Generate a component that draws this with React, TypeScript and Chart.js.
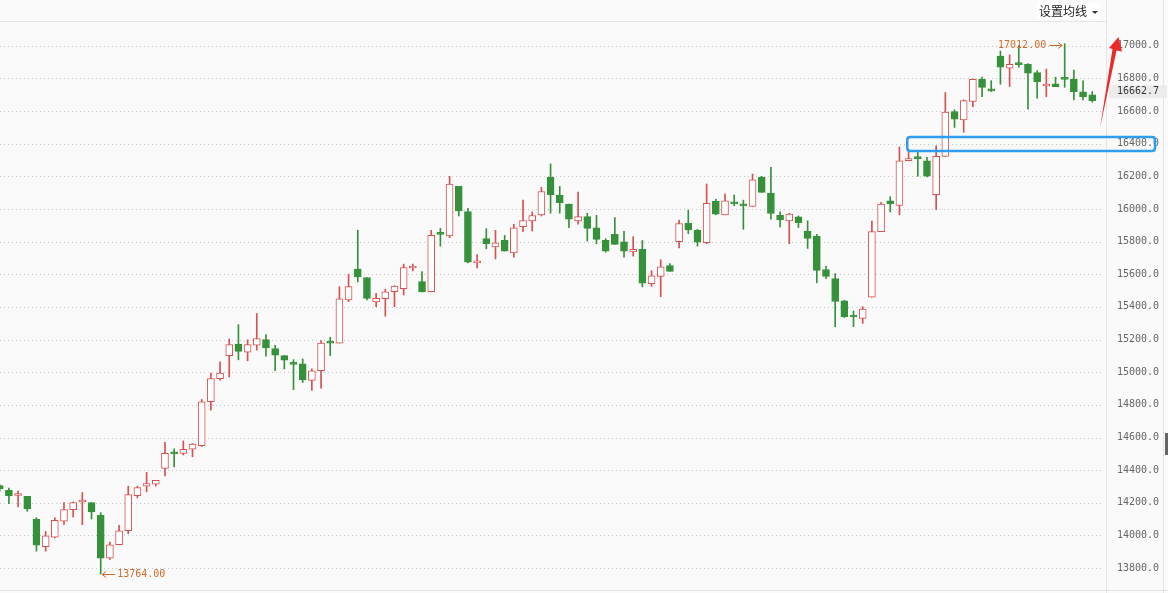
import { useEffect, useRef } from 'react';
import { Chart, registerables } from 'chart.js';

Chart.register(...registerables);

// OHLC values, one per trading session (left to right)
const opens = [
  14305, 14277, 14245, 14240, 14099, 13932, 13990, 14088, 14158, 14205,
  14201, 14123, 13861, 13943, 14029, 14244, 14302, 14314, 14410, 14505,
  14503, 14528, 14550, 14819, 14961, 15101, 15173, 15122, 15165, 15200,
  15145, 15102, 15052, 15052, 14949, 15010, 15182, 15178, 15442, 15631,
  15580, 15430, 15450, 15493, 15512, 15638, 15555, 15493, 15848, 15834,
  16138, 15984, 15670, 15818, 15768, 15807, 15731, 15892, 15927, 15964,
  16194, 16085, 16029, 15927, 15953, 15885, 15807, 15844, 15799, 15737,
  15752, 15542, 15587, 15653, 15799, 15912, 15869, 15793, 16046, 15964,
  16042, 16023, 16015, 16194, 16097, 15961, 15927, 15951, 15865, 15834,
  15628, 15573, 15437, 15343, 15330, 15460, 15861, 16050, 16022, 16295,
  16312, 16295, 16088, 16322, 16597, 16546, 16658, 16794, 16727, 16937,
  16862, 16888, 16886, 16835, 16753, 16766, 16800, 16794, 16717, 16699,
];
const highs = [
  14312, 14291, 14273, 14240, 14109, 14025, 14109, 14201, 14205, 14263,
  14201, 14140, 13959, 14062, 14302, 14302, 14386, 14338, 14571, 14530,
  14579, 14563, 14833, 14994, 15064, 15204, 15291, 15198, 15359, 15230,
  15165, 15102, 15077, 15081, 15020, 15194, 15214, 15524, 15600, 15870,
  15580, 15483, 15508, 15530, 15662, 15662, 15616, 15869, 15881, 16200,
  16138, 16003, 15721, 15879, 15869, 15838, 15906, 16054, 15982, 16132,
  16276, 16138, 16029, 16103, 15974, 15961, 15818, 15947, 15863, 15830,
  15807, 15622, 15689, 15666, 15931, 15992, 15875, 16153, 16060, 16091,
  16085, 16054, 16214, 16200, 16255, 15982, 15974, 15957, 15927, 15844,
  15649, 15604, 15440, 15375, 15402, 15926, 16040, 16075, 16380, 16356,
  16352, 16316, 16387, 16713, 16607, 16668, 16796, 16807, 16786, 16967,
  16943, 17000, 16890, 16847, 16857, 16807, 17012, 16851, 16784, 16719,
];
const lows = [
  14270, 14195, 14175, 14148, 13904, 13904, 13985, 14068, 14113, 14066,
  14101, 13764, 13853, 13943, 14011, 14230, 14267, 14302, 14365, 14420,
  14493, 14482, 14545, 14767, 14951, 14971, 15076, 15070, 15135, 15098,
  15010, 15020, 14893, 14937, 14888, 14902, 15102, 15178, 15432, 15553,
  15442, 15401, 15343, 15401, 15473, 15620, 15491, 15493, 15772, 15824,
  15957, 15670, 15639, 15756, 15694, 15742, 15705, 15861, 15865, 15957,
  15974, 15974, 15886, 15906, 15803, 15787, 15735, 15783, 15705, 15711,
  15522, 15526, 15462, 15618, 15762, 15849, 15772, 15787, 15964, 15964,
  16019, 15875, 16015, 16101, 15937, 15890, 15787, 15886, 15758, 15548,
  15573, 15279, 15335, 15279, 15299, 15460, 15861, 15982, 15964, 16295,
  16200, 16196, 15996, 16322, 16499, 16470, 16627, 16688, 16719, 16764,
  16750, 16868, 16611, 16678, 16688, 16749, 16745, 16668, 16668, 16654,
];
const closes = [
  14285, 14242, 14255, 14162, 13941, 13998, 14092, 14158, 14201, 14212,
  14144, 13861, 13943, 14029, 14250, 14293, 14318, 14338, 14503, 14500,
  14528, 14559, 14819, 14961, 14994, 15169, 15128, 15169, 15206, 15149,
  15104, 15073, 15048, 14953, 15008, 15178, 15178, 15450, 15524, 15584,
  15452, 15452, 15493, 15528, 15641, 15645, 15491, 15838, 15844, 16153,
  15988, 15674, 15676, 15787, 15793, 15742, 15885, 15929, 15960, 16107,
  16087, 16038, 15937, 15953, 15881, 15814, 15742, 15783, 15742, 15752,
  15546, 15591, 15645, 15618, 15910, 15871, 15797, 16034, 15968, 16050,
  16031, 16019, 16179, 16101, 15972, 15932, 15968, 15916, 15820, 15624,
  15587, 15433, 15340, 15338, 15386, 15861, 16029, 16033, 16295, 16308,
  16308, 16200, 16322, 16593, 16550, 16664, 16794, 16745, 16723, 16868,
  16886, 16884, 16831, 16780, 16758, 16749, 16794, 16719, 16688, 16662.7,
];

const yTicks = [13800, 14000, 14200, 14400, 14600, 14800, 15000, 15200, 15400, 15600, 15800, 16000, 16200, 16400, 16600, 16800, 17000];
const menuLabel = '设置均线';
const lastPriceLabel = '16662.7';

const RED = '#d65151';
const GREEN = '#36913b';
const ORANGE = '#cf6c2a';
const MONO = '"DejaVu Sans Mono", monospace';

export default function App() {
  const ref = useRef<HTMLCanvasElement | null>(null);

  useEffect(() => {
    document.body.style.margin = '0';
    const canvas = ref.current;
    if (!canvas) return;
    const idx = opens.map((_, i) => i);
    const up = idx.map((i) => closes[i] >= opens[i]);

    let lowIdx = 0;
    let highIdx = 0;
    idx.forEach((i) => {
      if (lows[i] < lows[lowIdx]) lowIdx = i;
      if (highs[i] > highs[highIdx]) highIdx = i;
    });

    const decor = {
      id: 'decor',
      beforeDraw(chart: any) {
        const { ctx, chartArea, width, height } = chart;
        const ys = chart.scales.y;
        ctx.save();
        ctx.fillStyle = '#fafafa';
        ctx.fillRect(0, 0, width, height);
        ctx.strokeStyle = '#e4e4e4';
        ctx.lineWidth = 1;
        ctx.beginPath();
        ctx.moveTo(0, chartArea.top - 0.5);
        ctx.lineTo(chartArea.right, chartArea.top - 0.5);
        ctx.moveTo(0, chartArea.bottom + 0.5);
        ctx.lineTo(width, chartArea.bottom + 0.5);
        ctx.moveTo(Math.round(chartArea.right) + 0.5, 0);
        ctx.lineTo(Math.round(chartArea.right) + 0.5, height);
        ctx.moveTo(width - 4.5, 0);
        ctx.lineTo(width - 4.5, height);
        ctx.stroke();
        // dotted horizontal grid
        ctx.setLineDash([1, 3]);
        ctx.strokeStyle = '#c4c4c4';
        ctx.beginPath();
        yTicks.forEach((t) => {
          const py = Math.round(ys.getPixelForValue(t)) + 0.5;
          ctx.moveTo(0, py);
          ctx.lineTo(chartArea.right - 3, py);
        });
        ctx.stroke();
        ctx.setLineDash([]);
        // scroll handle at right edge
        ctx.fillStyle = '#666';
        ctx.fillRect(width - 3, 433, 3, 22);
        ctx.restore();
      },
      afterDraw(chart: any) {
        const { ctx, chartArea, width } = chart;
        const xs = chart.scales.x;
        const ys = chart.scales.y;
        ctx.save();

        // low annotation
        ctx.font = `10px ${MONO}`;
        ctx.fillStyle = ORANGE;
        ctx.strokeStyle = ORANGE;
        ctx.lineWidth = 1;
        const lx = xs.getPixelForValue(lowIdx) + 1.5;
        const ly = Math.round(ys.getPixelForValue(lows[lowIdx])) + 0.5;
        ctx.beginPath();
        ctx.moveTo(lx, ly);
        ctx.lineTo(lx + 13, ly);
        ctx.moveTo(lx + 4, ly - 3);
        ctx.lineTo(lx, ly);
        ctx.lineTo(lx + 4, ly + 3);
        ctx.stroke();
        ctx.textAlign = 'left';
        ctx.textBaseline = 'middle';
        ctx.fillText(lows[lowIdx].toFixed(2), lx + 15, ly);

        // high annotation
        const hx = xs.getPixelForValue(highIdx) - 2.5;
        const hy = Math.round(ys.getPixelForValue(highs[highIdx])) + 1.5;
        ctx.beginPath();
        ctx.moveTo(hx - 13, hy);
        ctx.lineTo(hx, hy);
        ctx.moveTo(hx - 4, hy - 3);
        ctx.lineTo(hx, hy);
        ctx.lineTo(hx - 4, hy + 3);
        ctx.stroke();
        ctx.textAlign = 'right';
        ctx.fillText(highs[highIdx].toFixed(2), hx - 16, hy);

        // last price label
        const last = closes[closes.length - 1];
        const py = ys.getPixelForValue(last) - 9;
        ctx.fillStyle = '#ececec';
        ctx.fillRect(chartArea.right + 3, py - 6.5, width - chartArea.right - 4, 13);
        ctx.fillStyle = '#333';
        ctx.textAlign = 'left';
        ctx.fillText(lastPriceLabel, chartArea.right + 11, py);

        // blue highlight box
        const bx0 = xs.getPixelForValue(98.85);
        const bx1 = width - 13;
        const by0 = ys.getPixelForValue(16440);
        const by1 = ys.getPixelForValue(16355);
        ctx.strokeStyle = '#2f9cf0';
        ctx.lineWidth = 2.5;
        ctx.beginPath();
        const r = 3;
        ctx.moveTo(bx0 + r, by0);
        ctx.lineTo(bx1 - r, by0);
        ctx.quadraticCurveTo(bx1, by0, bx1, by0 + r);
        ctx.lineTo(bx1, by1 - r);
        ctx.quadraticCurveTo(bx1, by1, bx1 - r, by1);
        ctx.lineTo(bx0 + r, by1);
        ctx.quadraticCurveTo(bx0, by1, bx0, by1 - r);
        ctx.lineTo(bx0, by0 + r);
        ctx.quadraticCurveTo(bx0, by0, bx0 + r, by0);
        ctx.closePath();
        ctx.stroke();

        // red arrow
        const ax = chartArea.right;
        ctx.fillStyle = '#ec2a2a';
        ctx.beginPath();
        ctx.moveTo(ax - 6, 128);
        ctx.lineTo(ax + 6.5, 49);
        ctx.lineTo(ax + 3, 48);
        ctx.lineTo(ax + 12.5, 37);
        ctx.lineTo(ax + 16, 51.5);
        ctx.lineTo(ax + 10.5, 50.5);
        ctx.closePath();
        ctx.fill();

        ctx.restore();
      },
    };

    const chart = new Chart(canvas, {
      type: 'bar',
      data: {
        datasets: [
          {
            label: 'body',
            data: idx.map((i) => ({ x: i, y: [opens[i], closes[i]] })) as any,
            backgroundColor: idx.map((i) => (up[i] ? '#ffffff' : GREEN)),
            borderColor: idx.map((i) => (up[i] ? RED : GREEN)),
            borderWidth: 1,
            borderSkipped: false,
            barThickness: 7,
            minBarLength: 2,
            grouped: false,
          } as any,
          {
            label: 'wick',
            data: idx.map((i) => ({ x: i, y: [lows[i], highs[i]] })) as any,
            backgroundColor: idx.map((i) => (up[i] ? RED : GREEN)),
            borderWidth: 0,
            barThickness: 1,
            grouped: false,
          } as any,
        ],
      },
      options: {
        animation: false,
        responsive: false,
        layout: { padding: { top: 22, bottom: 3, left: 0, right: 0 } },
        plugins: { legend: { display: false }, tooltip: { enabled: false } },
        scales: {
          x: { type: 'linear', min: 0.03, max: 120.5, offset: false, display: false } as any,
          y: {
            position: 'right',
            min: 13666,
            max: 17145,
            grid: { display: false, drawTicks: false },
            border: { display: false },
            afterBuildTicks: (s: any) => {
              s.ticks = yTicks.map((v) => ({ value: v }));
            },
            afterFit: (s: any) => {
              s.width = 62;
              s.paddingTop = 0;
              s.paddingBottom = 0;
            },
            ticks: {
              padding: 11,
              color: '#666',
              font: { family: MONO, size: 10 },
              callback: (v: any) => Number(v).toFixed(1),
            },
          } as any,
        },
      },
      plugins: [decor],
    });
    return () => chart.destroy();
  }, []);

  return (
    <div style={{ position: 'fixed', left: 0, top: 0, width: 1168, height: 593, background: '#fafafa', overflow: 'hidden' }}>
      <canvas ref={ref} width={1168} height={593} style={{ display: 'block' }} />
      <div
        style={{
          position: 'absolute',
          left: 1037,
          top: 3,
          padding: '0 2px',
          background: '#ffffff',
          fontFamily: '"Noto Sans CJK SC", sans-serif',
          fontSize: 12,
          lineHeight: '16px',
          color: '#222',
          whiteSpace: 'nowrap',
        }}
      >
        {menuLabel}
        <span
          style={{
            display: 'inline-block',
            width: 0,
            height: 0,
            marginLeft: 5,
            verticalAlign: 'middle',
            borderLeft: '3px solid transparent',
            borderRight: '3px solid transparent',
            borderTop: '3px solid #333',
          }}
        />
      </div>
    </div>
  );
}
